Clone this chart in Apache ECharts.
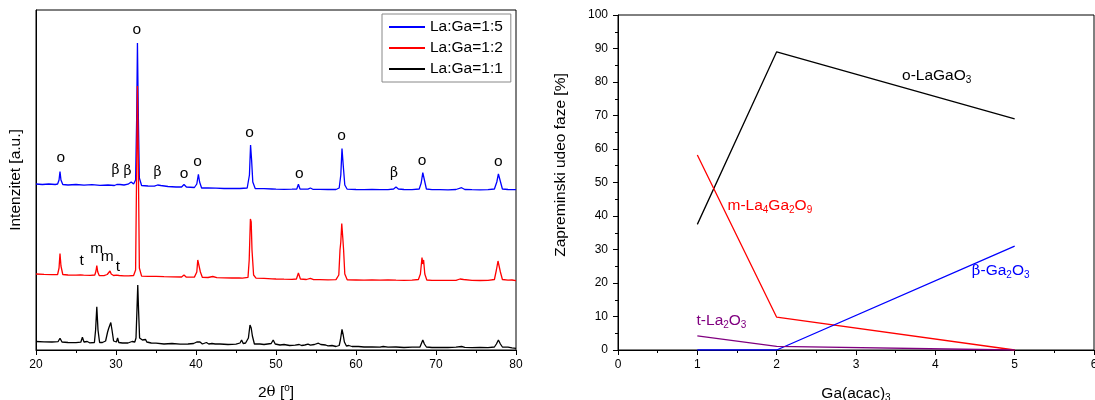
<!DOCTYPE html>
<html>
<head>
<meta charset="utf-8">
<script src="https://cdn.jsdelivr.net/npm/echarts@6/dist/echarts.min.js"></script>
<style>
  html, body { margin: 0; padding: 0; background: #fff; }
  #chart { width: 1095px; height: 400px; }
</style>
</head>
<body>
<div id="chart"></div>
<script>
// ---- XRD patterns: [2θ (deg), intensity (a.u., stacked with offsets)] ----
const xrdRatio15 = [
  [20.0,166],[20.8,165.5],[21.6,166],[22.4,165.5],[22.7,166],[22.88,170],[23.0,178.5],[23.12,170],[23.35,165.5],
  [24.0,165],[25.0,165.5],[26.0,164.8],[27.0,165.3],[28.0,164.7],[29.0,165],[29.8,164.5],[30.1,165.5],[30.3,167.5],
  [30.5,165.5],[31.0,165],[31.5,165.8],[31.9,168],[32.2,166],[32.45,170],[32.58,230],[32.68,307],[32.8,230],[32.92,172],
  [33.2,164.5],[34.0,164],[34.8,163.8],[35.2,165],[35.4,166.8],[35.6,164.5],[36.5,163.5],[37.5,163],[38.2,163],
  [38.5,165.5],[38.8,163],[39.8,162.5],[40.1,166],[40.3,175.7],[40.45,168],[40.7,162],[41.5,162],[42.5,161.8],
  [43.5,161.5],[44.5,161.5],[45.5,161.5],[46.4,162],[46.68,175],[46.82,205],[46.95,190],[47.1,168],[47.4,161.5],
  [48.5,161.3],[49.5,161],[50.0,160.8],[51.0,160.6],[52.0,160.8],[52.6,161],[52.8,165.8],[53.0,161],[54.0,160.8],
  [54.3,162],[54.6,160.7],[55.5,160.6],[56.5,160.5],[57.5,160.5],[57.9,162],[58.1,175],[58.25,201.5],[58.4,185],
  [58.6,165],[58.9,160.8],[60.0,160.5],[61.0,160.4],[62.0,160.5],[63.0,160.3],[64.0,160.4],[64.7,161],[65.0,163],
  [65.3,161],[66.0,160.5],[67.0,160.3],[67.9,161],[68.15,167],[68.35,177.3],[68.55,170],[68.8,161],[69.5,160.4],
  [70.5,160.3],[71.5,160.2],[72.5,160.5],[73.2,162.3],[73.6,160.5],[74.5,160.3],[75.5,160.2],[76.5,160.3],[77.3,161],
  [77.6,168],[77.8,176],[78.0,170],[78.3,161],[79.0,160.5],[80.0,160.3]
];
const xrdRatio12 = [
  [20.0,76],[21.0,75.6],[22.0,75.4],[22.7,75.5],[22.88,82],[23.0,96.5],[23.12,84],[23.35,75.5],[24.0,75],[25.0,74.8],
  [25.55,75],[25.75,76.8],[25.95,74.8],[26.8,74.6],[27.35,75],[27.5,79],[27.6,84.5],[27.72,78],[27.9,74.5],[28.5,74.4],
  [28.9,75.5],[29.1,77],[29.25,79],[29.4,76],[29.7,74.5],[30.05,74.8],[30.2,76.2],[30.4,74.5],[31.0,74.2],[31.6,74.1],
  [32.2,74.5],[32.45,80],[32.58,180],[32.68,264],[32.8,180],[32.92,82],[33.2,73.8],[34.0,73.6],[35.0,73.7],[36.0,73.3],
  [37.0,73.2],[38.2,73],[38.5,75],[38.8,72.8],[39.8,72.9],[40.1,78],[40.22,90],[40.3,88],[40.38,91],[40.55,78],
  [40.8,72.6],[41.5,72.5],[42.1,73.5],[42.6,72.4],[43.5,72.2],[44.5,72],[45.4,72],[45.6,73.5],[45.8,71.9],[46.5,72.6],
  [46.65,90],[46.8,131],[46.9,128],[47.0,100],[47.2,75],[47.5,71.8],[48.5,71.6],[49.5,71.2],[50.0,71],[51.0,70.8],
  [52.0,70.7],[52.55,71],[52.8,77],[53.05,71],[53.8,70.5],[54.3,71.7],[54.7,70.4],[55.5,70.3],[56.5,70.2],[57.5,70.4],
  [57.85,75],[58.0,100],[58.1,108],[58.22,126.5],[58.35,112],[58.45,100],[58.6,76],[58.9,70.2],[60.0,70],[61.0,69.8],
  [62.0,70],[63.0,69.8],[64.0,70],[65.0,69.8],[66.0,69.7],[67.0,69.8],[67.8,70.5],[68.05,76],[68.25,92.5],[68.35,86],
  [68.45,90],[68.6,76],[68.85,70],[69.5,69.7],[70.5,69.6],[71.5,69.7],[72.5,69.6],[73.0,71],[73.2,73],[73.45,70.5],
  [74.5,69.6],[75.5,69.5],[76.5,69.6],[77.3,70.5],[77.55,80],[77.75,89],[77.85,87],[78.05,78],[78.3,70.5],[79.0,69.8],
  [79.5,70],[80.0,69.4]
];
const xrdRatio11 = [
  [20.0,8.5],[21.0,8.2],[22.0,8],[22.75,8.3],[23.0,11.8],[23.25,8],[24.0,7.5],[25.0,7.3],[25.6,7.8],[25.8,12.7],
  [26.0,8],[26.4,8.5],[26.7,7.2],[27.3,7.5],[27.45,20],[27.6,43.3],[27.75,20],[27.95,7.5],[28.3,7.5],[28.7,9],
  [28.95,18],[29.1,22],[29.2,20],[29.35,27.5],[29.5,20],[29.7,9],[29.9,7.5],[30.05,8],[30.2,12],[30.35,7.5],
  [30.8,7],[31.5,7],[32.0,8.5],[32.15,9.5],[32.35,8],[32.5,12],[32.62,40],[32.72,65],[32.82,40],[32.95,12],
  [33.05,10],[33.15,13.5],[33.3,10],[33.4,12],[33.55,9],[33.7,10.5],[33.85,8],[34.1,9],[34.4,7],[35.0,6.8],
  [36.0,6],[37.0,6.5],[38.0,5.8],[39.0,6],[39.7,6.5],[40.1,8],[40.3,10],[40.5,8],[40.8,6],[41.3,7.5],
  [41.6,6],[42.0,6.5],[42.2,8],[42.4,6],[43.0,6],[44.0,5.5],[45.0,5.8],[45.5,7],[45.7,10],[45.9,6.5],
  [46.2,7],[46.55,12],[46.75,25],[46.9,22],[47.05,14],[47.3,6],[48.0,6],[48.5,5.5],[49.4,6.5],[49.65,10],
  [49.9,6],[50.5,5],[51.0,5.5],[51.7,4.5],[52.4,4.8],[52.9,5.5],[53.2,4.5],[53.6,5],[54.0,5.8],[54.3,4.8],
  [54.8,5.5],[55.0,7],[55.3,6.8],[55.6,5.5],[56.2,5],[56.5,4.2],[57.0,4.5],[57.5,3.5],[57.9,4.5],[58.05,10],
  [58.25,20.7],[58.4,15],[58.55,8],[58.8,4],[59.1,4.5],[59.5,3.5],[60.3,3.5],[60.5,4.5],[61.0,3],[62.0,3.2],
  [63.0,2.8],[63.4,3.5],[64.0,2.8],[65.0,3],[66.0,2.5],[67.0,2.8],[68.0,3],[68.15,5],[68.35,10],[68.55,6],
  [68.8,3],[69.5,2.5],[70.5,2.7],[71.5,2.5],[72.5,2.8],[73.2,3.5],[73.6,2.6],[74.5,2.4],[75.5,2.6],[76.5,2.3],
  [77.3,3],[77.55,6],[77.8,10],[78.05,6],[78.3,3],[79.0,2.8],[79.5,2.2],[80.0,1.7]
];
const xrdNames = ['La:Ga=1:5', 'La:Ga=1:2', 'La:Ga=1:1'];
const xrdTicks = [20, 30, 40, 50, 60, 70, 80];

// Phase identification tags: [symbol, 2θ, height]
const tags15 = [
  ['o',23.1,192],['β',29.95,180],['β',31.45,179],['o',32.6,320],['β',35.2,178],['o',38.5,176],
  ['o',40.2,188],['o',46.7,217],['o',52.9,176],['o',58.2,214],['β',64.75,177],['o',68.25,189],['o',77.8,188]
];
const tags12 = [['t',25.7,89],['m',27.6,101],['m',28.9,93],['t',30.25,83]];

// ---- Volume fraction of phases vs Ga(acac)3 ----
const gaAcac = [1, 2, 5];
const oLaGaO3 = [37.5, 89, 69];
const mLa4Ga2O9 = [58.2, 9.8, 0];
const betaGa2O3 = [0, 0, 31];
const tLa2O3 = [4.2, 1.1, 0];

const FONT = '"Liberation Sans", Arial, sans-serif';
const GREEK = '"DejaVu Serif", "Liberation Serif", serif';

const rich = {
  sub: { fontSize: 10, fontFamily: FONT, padding: [9, 0, 0, 0] },
  sup: { fontSize: 10, fontFamily: FONT, padding: [0, 0, 9, 0] },
  g: { fontSize: 15, fontFamily: GREEK }
};

function pairs(xs, ys) { return xs.map((x, i) => [x, ys[i]]); }

function tagPoints(list) {
  return list.map(t => ({
    name: t[0], coord: [t[1], t[2]],
    label: { fontFamily: t[0] === 'β' ? GREEK : FONT, fontSize: t[0] === 'β' ? 14 : 15.5 }
  }));
}

function phaseLabel(text, x, y, color) {
  return {
    coord: [x, y], name: text,
    label: {
      formatter: text, color: color, fontSize: 15.5, fontFamily: FONT,
      align: 'left', verticalAlign: 'middle',
      rich: {
        sub: Object.assign({}, rich.sub, { color: color }),
        g: Object.assign({}, rich.g, { color: color })
      }
    }
  };
}

const axisText = { color: '#000', fontFamily: FONT, fontSize: 12 };

const chart = echarts.init(document.getElementById('chart'), null, { renderer: 'canvas' });

chart.setOption({
  animation: false,
  backgroundColor: '#fff',
  textStyle: { fontFamily: FONT },
  grid: [
    { left: 36, top: 10, right: 579, bottom: 50, outerBoundsMode: 'none', containLabel: false,
      show: true, borderColor: '#000', borderWidth: 1, backgroundColor: 'transparent' },
    { left: 618, top: 15, right: 1, bottom: 50, outerBoundsMode: 'none', containLabel: false,
      show: true, borderColor: '#000', borderWidth: 1, backgroundColor: 'transparent' }
  ],
  legend: {
    data: xrdNames,
    orient: 'vertical',
    left: 382, top: 14,
    itemWidth: 36, itemHeight: 14, itemGap: 5,
    padding: [5, 8, 5, 6],
    borderColor: '#888', borderWidth: 1,
    backgroundColor: '#fff',
    itemStyle: { opacity: 0 },
    textStyle: { fontSize: 15.5, color: '#000', fontFamily: FONT }
  },
  xAxis: [
    {
      gridIndex: 0, type: 'value', min: xrdTicks[0], max: xrdTicks[xrdTicks.length - 1], interval: 10,
      name: '2{g|θ} [{sup|o}]', nameLocation: 'middle', nameGap: 33,
      nameTextStyle: { fontSize: 15.5, color: '#000', fontFamily: FONT, rich: rich },
      axisLine: { lineStyle: { color: '#000', width: 1 } },
      axisTick: { length: 5, lineStyle: { color: '#000' } },
      minorTick: { show: true, splitNumber: 2, length: 3, lineStyle: { color: '#000' } },
      splitLine: { show: false },
      axisLabel: Object.assign({ margin: 9 }, axisText)
    },
    {
      gridIndex: 1, type: 'value', min: 0, max: 6, interval: 1,
      name: 'Ga(acac){sub|3}', nameLocation: 'middle', nameGap: 34,
      nameTextStyle: { fontSize: 15.5, color: '#000', fontFamily: FONT, rich: rich },
      axisLine: { onZero: false, lineStyle: { color: '#000', width: 1 } },
      axisTick: { length: 5, lineStyle: { color: '#000' } },
      minorTick: { show: true, splitNumber: 2, length: 3, lineStyle: { color: '#000' } },
      splitLine: { show: false },
      axisLabel: Object.assign({ margin: 9 }, axisText)
    }
  ],
  yAxis: [
    {
      gridIndex: 0, type: 'value', min: 0, max: 340,
      axisLine: { show: true, lineStyle: { color: '#000' } },
      axisTick: { show: false }, axisLabel: { show: false }, splitLine: { show: false }
    },
    {
      gridIndex: 1, type: 'value', min: 0, max: 100, interval: 10,
      axisLine: { show: true, onZero: false, lineStyle: { color: '#000', width: 1 } },
      axisTick: { length: 5, lineStyle: { color: '#000' } },
      minorTick: { show: true, splitNumber: 2, length: 3, lineStyle: { color: '#000' } },
      splitLine: { show: false },
      axisLabel: Object.assign({ margin: 10 }, axisText)
    }
  ],
  graphic: [
    {
      type: 'text', x: 16, y: 180, rotation: Math.PI / 2,
      style: { text: 'Intenzitet [a.u.]', fontSize: 15.5, fontFamily: FONT, fill: '#000', align: 'center', verticalAlign: 'middle' }
    },
    {
      type: 'text', x: 561, y: 165, rotation: Math.PI / 2,
      style: { text: 'Zapreminski udeo faze [%]', fontSize: 15.5, fontFamily: FONT, fill: '#000', align: 'center', verticalAlign: 'middle' }
    }
  ],
  series: [
    {
      name: xrdNames[0], type: 'line', xAxisIndex: 0, yAxisIndex: 0, data: xrdRatio15,
      symbol: 'none', lineStyle: { color: '#0000ff', width: 1.3 }, itemStyle: { color: '#0000ff' },
      markPoint: {
        symbol: 'circle', symbolSize: 0, silent: true,
        label: { show: true, position: 'inside', formatter: '{b}', color: '#000' },
        data: tagPoints(tags15)
      }
    },
    {
      name: xrdNames[1], type: 'line', xAxisIndex: 0, yAxisIndex: 0, data: xrdRatio12,
      symbol: 'none', lineStyle: { color: '#ff0000', width: 1.3 }, itemStyle: { color: '#ff0000' },
      markPoint: {
        symbol: 'circle', symbolSize: 0, silent: true,
        label: { show: true, position: 'inside', formatter: '{b}', color: '#000' },
        data: tagPoints(tags12)
      }
    },
    {
      name: xrdNames[2], type: 'line', xAxisIndex: 0, yAxisIndex: 0, data: xrdRatio11,
      symbol: 'none', lineStyle: { color: '#000000', width: 1.3 }, itemStyle: { color: '#000000' }
    },
    {
      name: 'o-LaGaO3', type: 'line', xAxisIndex: 1, yAxisIndex: 1, data: pairs(gaAcac, oLaGaO3),
      symbol: 'none', lineStyle: { color: '#000000', width: 1.3 },
      markPoint: {
        symbol: 'circle', symbolSize: 0, silent: true, label: { show: true, position: 'inside' },
        data: [phaseLabel('o-LaGaO{sub|3}', 3.58, 81.8, '#000000')]
      }
    },
    {
      name: 'm-La4Ga2O9', type: 'line', xAxisIndex: 1, yAxisIndex: 1, data: pairs(gaAcac, mLa4Ga2O9),
      symbol: 'none', lineStyle: { color: '#ff0000', width: 1.3 },
      markPoint: {
        symbol: 'circle', symbolSize: 0, silent: true, label: { show: true, position: 'inside' },
        data: [phaseLabel('m-La{sub|4}Ga{sub|2}O{sub|9}', 1.38, 43, '#ff0000')]
      }
    },
    {
      name: 'β-Ga2O3', type: 'line', xAxisIndex: 1, yAxisIndex: 1, data: pairs(gaAcac, betaGa2O3),
      symbol: 'none', lineStyle: { color: '#0000ff', width: 1.3 },
      markPoint: {
        symbol: 'circle', symbolSize: 0, silent: true, label: { show: true, position: 'inside' },
        data: [phaseLabel('{g|β}-Ga{sub|2}O{sub|3}', 4.46, 23.6, '#0000ff')]
      }
    },
    {
      name: 't-La2O3', type: 'line', xAxisIndex: 1, yAxisIndex: 1, data: pairs(gaAcac, tLa2O3),
      symbol: 'none', lineStyle: { color: '#800080', width: 1.3 },
      markPoint: {
        symbol: 'circle', symbolSize: 0, silent: true, label: { show: true, position: 'inside' },
        data: [phaseLabel('t-La{sub|2}O{sub|3}', 0.99, 8.7, '#800080')]
      }
    }
  ]
});
</script>
</body>
</html>
